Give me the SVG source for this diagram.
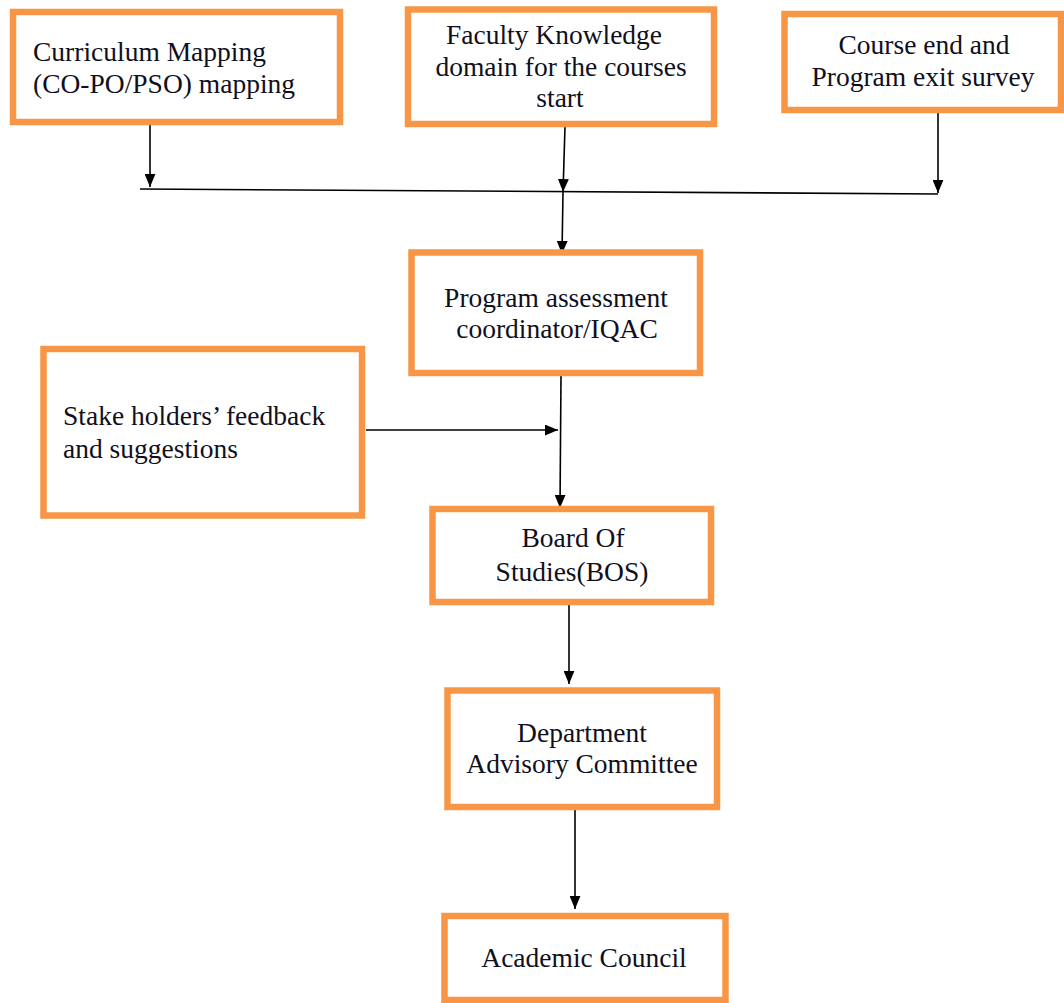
<svg xmlns="http://www.w3.org/2000/svg" width="1064" height="1003" viewBox="0 0 1064 1003">
  <style>
    .box { fill: #ffffff; stroke: #F79646; stroke-width: 6.5; }
    .lbl { font-family: "Liberation Serif", "Times New Roman", serif; font-size: 27.5px; fill: #10101c; }
    .mid { text-anchor: middle; }
    .wire { stroke: #000000; stroke-width: 1.6; fill: none; }
    .arr { stroke: #000000; stroke-width: 1.6; fill: none; marker-end: url(#head); }
  </style>
  <defs>
    <marker id="head" viewBox="0 0 12 10" refX="12" refY="5" markerWidth="13" markerHeight="11" markerUnits="userSpaceOnUse" orient="auto">
      <path d="M0,0 L12,5 L0,10 Z" fill="#000000"/>
    </marker>
  </defs>

  <rect width="1064" height="1003" fill="#ffffff"/>

  <g id="connectors">
    <!-- collector bar joining the three top inputs -->
    <line class="wire" x1="140" y1="189" x2="938" y2="194"/>
    <line class="arr" x1="150" y1="125" x2="150" y2="187"/>
    <line class="arr" x1="565" y1="127" x2="563" y2="192"/>
    <line class="arr" x1="938" y1="112" x2="938" y2="193"/>
    <line class="arr" x1="563" y1="192" x2="562" y2="254"/>
    <!-- assessment coordinator down to BOS, with stakeholder input -->
    <line class="arr" x1="561" y1="376" x2="560" y2="508"/>
    <line class="arr" x1="366" y1="430" x2="558" y2="430"/>
    <line class="arr" x1="569" y1="605" x2="569" y2="684"/>
    <line class="arr" x1="575" y1="810" x2="575" y2="909"/>
  </g>

  <g id="curriculum-mapping">
    <rect class="box" x="13" y="12" width="327" height="110"/>
    <text class="lbl" x="33" y="61">Curriculum Mapping</text>
    <text class="lbl" x="33" y="93">(CO-PO/PSO) mapping</text>
  </g>

  <g id="faculty-knowledge">
    <rect class="box" x="408" y="9.5" width="306" height="114.5"/>
    <text class="lbl mid" x="554" y="44">Faculty Knowledge</text>
    <text class="lbl mid" x="561" y="76">domain for the courses</text>
    <text class="lbl mid" x="560" y="107">start</text>
  </g>

  <g id="exit-survey">
    <rect class="box" x="784.5" y="14" width="276.5" height="96"/>
    <text class="lbl mid" x="924" y="54">Course end and</text>
    <text class="lbl mid" x="923" y="86">Program exit survey</text>
  </g>

  <g id="assessment-coordinator">
    <rect class="box" x="411.5" y="252.5" width="288.5" height="120.5"/>
    <text class="lbl mid" x="556" y="307">Program assessment</text>
    <text class="lbl mid" x="557" y="338">coordinator/IQAC</text>
  </g>

  <g id="stakeholders">
    <rect class="box" x="43.5" y="349" width="318.5" height="166.5"/>
    <text class="lbl" x="63" y="425">Stake holders’ feedback</text>
    <text class="lbl" x="63" y="458">and suggestions</text>
  </g>

  <g id="board-of-studies">
    <rect class="box" x="432.5" y="509" width="278.5" height="93"/>
    <text class="lbl mid" x="573" y="547">Board Of</text>
    <text class="lbl mid" x="572" y="581">Studies(BOS)</text>
  </g>

  <g id="advisory-committee">
    <rect class="box" x="447.5" y="690.5" width="269.5" height="116.5"/>
    <text class="lbl mid" x="582" y="742">Department</text>
    <text class="lbl mid" x="582" y="773">Advisory Committee</text>
  </g>

  <g id="academic-council">
    <rect class="box" x="444.5" y="916" width="281" height="84"/>
    <text class="lbl mid" x="584" y="967">Academic Council</text>
  </g>
</svg>
